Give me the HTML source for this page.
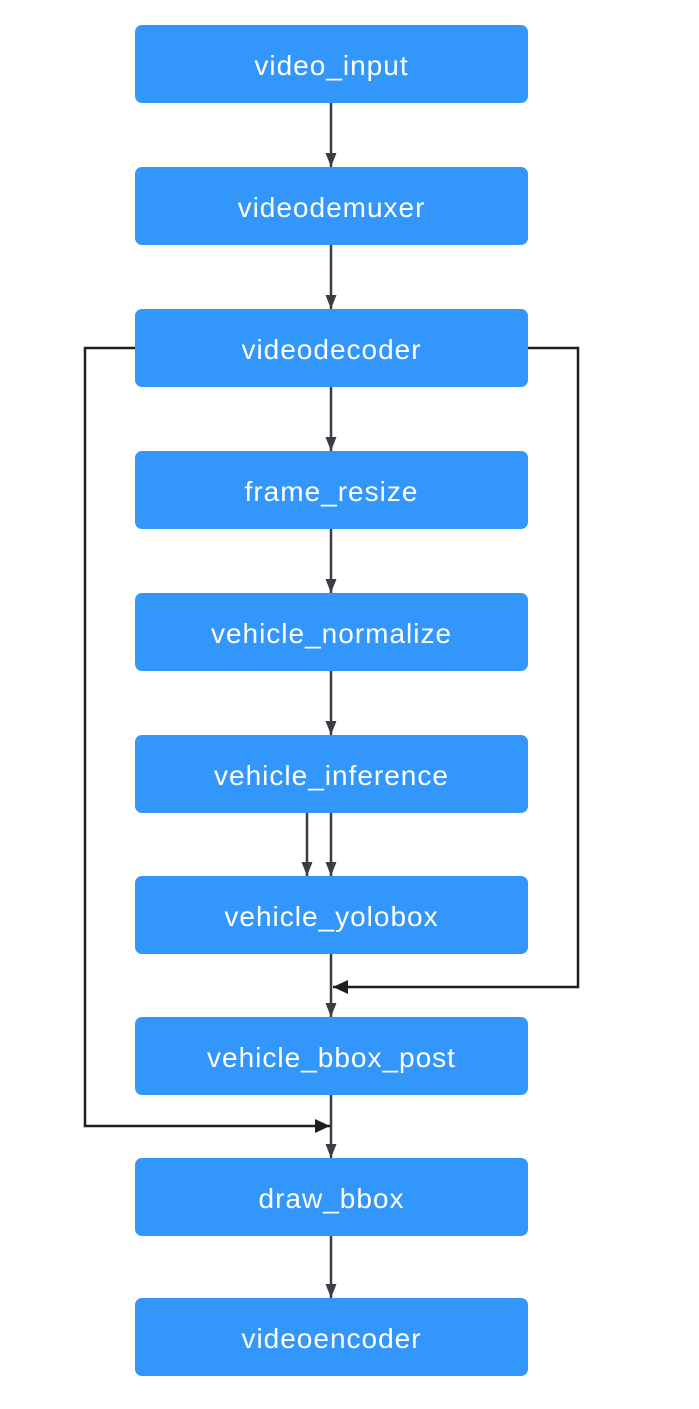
<!DOCTYPE html>
<html><head><style>
body{margin:0;background:#fff;width:699px;height:1409px;overflow:hidden;position:relative;font-family:"Liberation Sans",sans-serif}
.b{position:absolute;left:135px;width:393px;height:78px;background:#3396fb;border-radius:7px;color:#fff;font-size:28px;letter-spacing:1px;display:flex;align-items:center;justify-content:center;box-sizing:border-box;padding-top:4px}
svg{position:absolute;left:0;top:0}
</style></head><body>
<svg width="699" height="1409">
<defs>
<marker id="g" markerWidth="12" markerHeight="16" refX="14" refY="5.5" orient="auto" markerUnits="userSpaceOnUse"><path d="M0,0 L14,5.5 L0,11z" fill="#3c3c44"/></marker>
<marker id="k" markerWidth="16" markerHeight="16" refX="15" refY="7" orient="auto" markerUnits="userSpaceOnUse"><path d="M0,0 L15,7 L0,14z" fill="#1e1e1e"/></marker>
</defs>
<g stroke="#3c3c44" stroke-width="2.5" fill="none" marker-end="url(#g)">
<line x1="331" y1="103" x2="331" y2="167"/>
<line x1="331" y1="245" x2="331" y2="309"/>
<line x1="331" y1="387" x2="331" y2="451"/>
<line x1="331" y1="529" x2="331" y2="593"/>
<line x1="331" y1="671" x2="331" y2="735"/>
<line x1="307" y1="813" x2="307" y2="876"/>
<line x1="331" y1="813" x2="331" y2="876"/>
<line x1="331" y1="954" x2="331" y2="1017"/>
<line x1="331" y1="1095" x2="331" y2="1158"/>
<line x1="331" y1="1236" x2="331" y2="1298"/>
</g>
<g stroke="#1e1e1e" stroke-width="2.5" fill="none" marker-end="url(#k)">
<polyline points="528,348 578,348 578,987 333,987"/>
<polyline points="135,348 85,348 85,1126 330,1126"/>
</g>
</svg>
<div class="b" style="top:25px">video_input</div>
<div class="b" style="top:167px">videodemuxer</div>
<div class="b" style="top:309px">videodecoder</div>
<div class="b" style="top:451px">frame_resize</div>
<div class="b" style="top:593px">vehicle_normalize</div>
<div class="b" style="top:735px">vehicle_inference</div>
<div class="b" style="top:876px">vehicle_yolobox</div>
<div class="b" style="top:1017px">vehicle_bbox_post</div>
<div class="b" style="top:1158px">draw_bbox</div>
<div class="b" style="top:1298px">videoencoder</div>
</body></html>
